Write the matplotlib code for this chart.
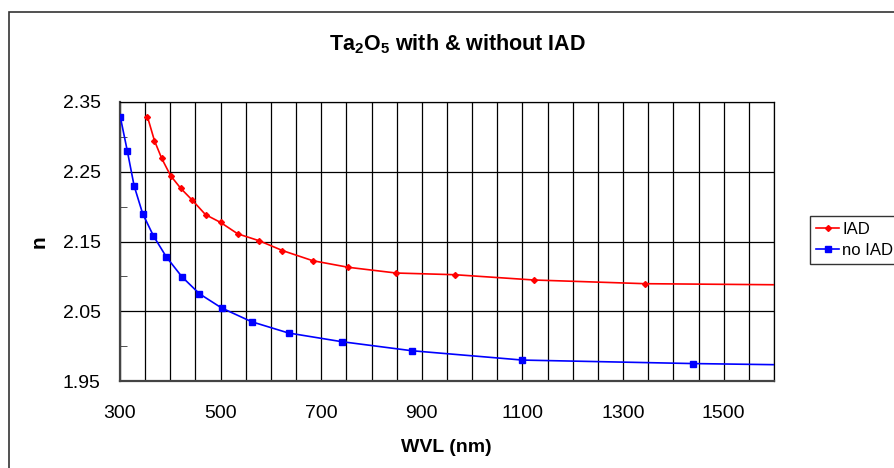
import matplotlib
matplotlib.use("Agg")
import matplotlib.pyplot as plt
from matplotlib.ticker import FixedLocator, MultipleLocator, FuncFormatter
import matplotlib.patches as mpatches

plt.rcParams['font.family'] = ['Liberation Sans', 'DejaVu Sans']
plt.rcParams['mathtext.fontset'] = 'custom'
plt.rcParams['mathtext.rm'] = 'Liberation Sans:bold'
plt.rcParams['mathtext.default'] = 'rm'

# Data
wvl_iad = [354.5, 368.5, 383, 400.5, 421, 444, 470, 500, 534, 577, 623, 683,
           754, 849, 965, 1123, 1344, 1600]
n_iad = [2.329, 2.2945, 2.269, 2.2445, 2.226, 2.209, 2.1885, 2.1773, 2.161,
         2.151, 2.137, 2.1225, 2.113, 2.1048, 2.1024, 2.0948, 2.0895, 2.088]

wvl_noiad = [300.5, 314.5, 328, 345, 366.5, 392, 423, 458, 502, 561.5, 635,
             740.5, 880, 1100, 1439, 1600]
n_noiad = [2.329, 2.280, 2.230, 2.190, 2.158, 2.128, 2.0995, 2.075, 2.0547,
           2.035, 2.0188, 2.0064, 1.9934, 1.980, 1.975, 1.9734]

series_labels = ["IAD", "no IAD"]
y_ticks = [1.95, 2.05, 2.15, 2.25, 2.35]
y_minor = [2.00, 2.10, 2.20, 2.30]
title_text = r"Ta$_2$O$_5$ with & without IAD"
xlabel_text = "WVL (nm)"
ylabel_text = "n"

W, H = 894, 468
fig = plt.figure(figsize=(W / 100, H / 100), dpi=100)

# outer chart frame (extends past right and bottom edges)
fig.patches.append(mpatches.Rectangle((9 / W, -0.2), 1.2, 1.2 - 12 / H,
                                      transform=fig.transFigure, fill=False,
                                      edgecolor='#333333', linewidth=1.2))

left, right, top, bottom = 120, 774, 102, 381
ax = fig.add_axes([left / W, 1 - bottom / H, (right - left) / W, (bottom - top) / H])

ax.plot(wvl_iad, n_iad, color='#ff0000', lw=1.2, marker='D', ms=3.0,
        markevery=list(range(len(wvl_iad) - 1)), label=series_labels[0], zorder=3)
ax.plot(wvl_noiad, n_noiad, color='#0000ff', lw=1.2, marker='s', ms=4.2,
        markevery=list(range(len(wvl_noiad) - 1)), label=series_labels[1], zorder=3)

ax.set_xlim(300, 1600)
ax.set_ylim(1.95, 2.35)

ax.xaxis.set_major_locator(MultipleLocator(50))
ax.xaxis.set_major_formatter(FuncFormatter(
    lambda v, p: f"{int(round(v))}" if int(round(v - 300)) % 200 == 0 else ""))
ax.yaxis.set_major_locator(FixedLocator(y_ticks))
ax.yaxis.set_minor_locator(FixedLocator(y_minor))
ax.yaxis.set_major_formatter(FuncFormatter(lambda v, p: f"{v:.2f}"))

ax.grid(True, which='major', color='black', linewidth=0.9)
ax.tick_params(axis='x', which='major', length=0, pad=17, labelsize=14)
ax.tick_params(axis='y', which='major', length=0, pad=14, labelsize=14)
ax.tick_params(axis='y', which='minor', length=5, direction='in', color='#333333')

for s in ['left', 'bottom']:
    ax.spines[s].set_color('#444444')
    ax.spines[s].set_linewidth(1.6)
for s in ['top', 'right']:
    ax.spines[s].set_color('black')
    ax.spines[s].set_linewidth(0.9)

fig.text(457.5 / W, 1 - 44 / H, title_text, ha='center', va='center',
         fontsize=15.5, fontweight='bold')
fig.text(446 / W, 1 - 447 / H, xlabel_text, ha='center', va='center',
         fontsize=14, fontweight='bold')
fig.text(39 / W, 1 - 242 / H, ylabel_text, ha='center', va='center',
         fontsize=15, fontweight='bold', rotation=90)

leg = fig.legend(loc='upper left', bbox_to_anchor=(810 / W, 1 - 216 / H),
                 fontsize=12, frameon=True, fancybox=False, borderpad=0.35,
                 handlelength=1.4, handletextpad=0.2, labelspacing=0.35,
                 borderaxespad=0)
leg.get_frame().set_edgecolor('black')
leg.get_frame().set_linewidth(1.0)

fig.savefig("out.png", dpi=100)
